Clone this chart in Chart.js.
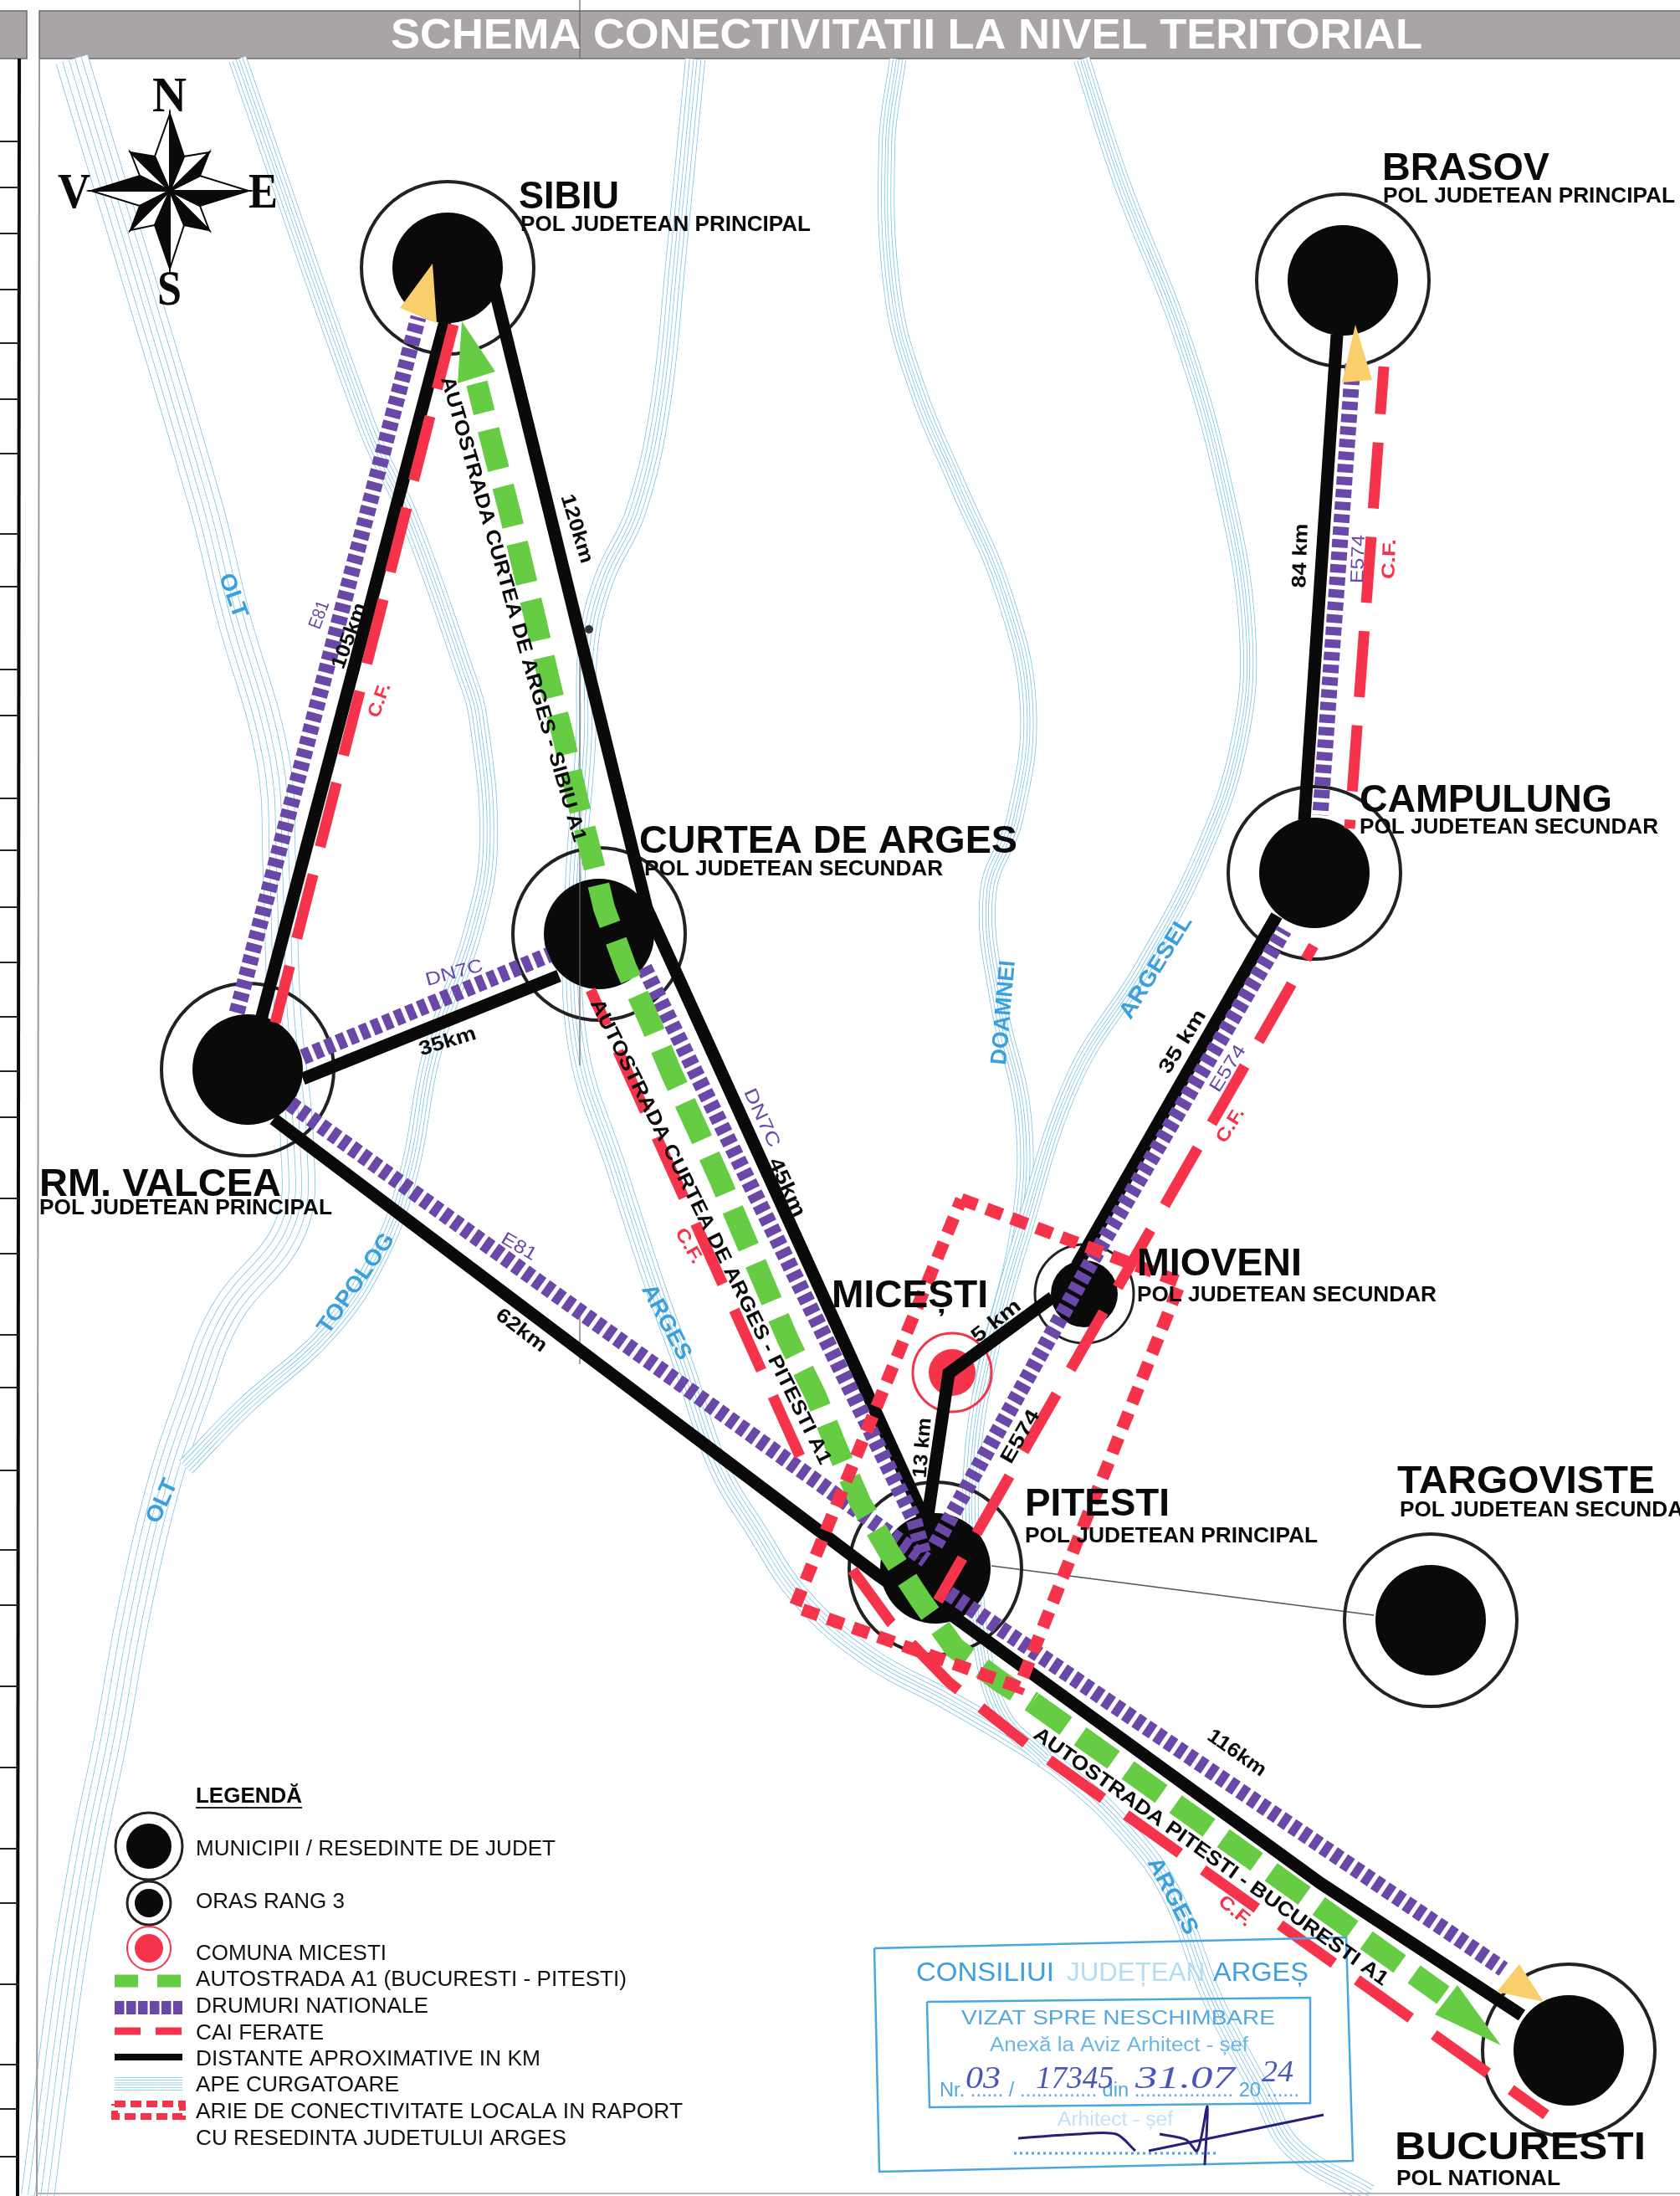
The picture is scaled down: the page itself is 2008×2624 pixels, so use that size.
<!DOCTYPE html>
<html>
<head>
<meta charset="utf-8">
<title>Schema conectivitatii la nivel teritorial</title>
<script src="https://cdn.jsdelivr.net/npm/chart.js@4/dist/chart.umd.js"></script>
<style>
html, body { margin: 0; padding: 0; background: #fff; }
canvas { display: block; }
</style>
</head>
<body>
<canvas id="myChart" width="2008" height="2624"></canvas>
<script>
// map values (x to the right, y downwards)
const cityNames = ['SIBIU', 'BRASOV', 'CAMPULUNG', 'CURTEA DE ARGES', 'RM. VALCEA', 'PITESTI', 'TARGOVISTE', 'BUCURESTI', 'MIOVENI', 'MICESTI']
const cityX = [535, 1605, 1571, 716, 296, 1118, 1710, 1875, 1296, 1138]
const cityY = [320, 335, 1043, 1116, 1278, 1874, 1936, 2450, 1546, 1640]

const oltX = [86, 245, 278, 326, 334, 340, 355, 347, 270, 230, 196, 160, 132, 107, 80, 45]
const oltY = [71, 600, 733, 906, 1039, 1212, 1365, 1467, 1570, 1671, 1773, 1926, 2080, 2200, 2360, 2624]
const topologX = [284, 440, 490, 556, 571, 584, 566, 515, 490, 454, 393, 291, 222]
const topologY = [71, 513, 620, 804, 855, 1008, 1110, 1263, 1396, 1498, 1590, 1682, 1753]
const argesX = [831, 808, 789, 760, 722, 703, 700, 687, 690, 738, 784, 818, 858, 904, 956, 1036, 1134, 1214, 1272, 1340, 1398, 1444, 1463, 1508, 1546, 1636]
const argesY = [71, 308, 486, 611, 692, 772, 888, 1067, 1245, 1400, 1540, 1634, 1751, 1829, 1907, 1978, 2032, 2079, 2118, 2181, 2259, 2376, 2417, 2500, 2567, 2622]
const doamneiX = [1073, 1060, 1067, 1098, 1143, 1200, 1229, 1213, 1181, 1194, 1223, 1218, 1175, 1160, 1164, 1172, 1197, 1249]
const doamneiY = [71, 174, 352, 469, 576, 710, 844, 978, 1067, 1201, 1335, 1467, 1650, 1780, 1869, 1958, 2048, 2102]
const argeselX = [1293, 1341, 1411, 1462, 1491, 1481, 1436, 1366, 1283, 1218, 1187, 1172]
const argeselY = [71, 219, 397, 576, 754, 888, 1022, 1156, 1290, 1489, 1600, 1668]

const distanceLines = [
    { x: [532, 311], y: [384, 1222] },
    { x: [580, 773, 1103, 1105], y: [300, 1085, 1811, 1830] },
    { x: [668, 362], y: [1166, 1289] },
    { x: [327, 1049, 1075], y: [1337, 1882, 1900] },
    { x: [1109, 1134, 1258], y: [1811, 1641, 1550] },
    { x: [1287, 1526], y: [1512, 1094] },
    { x: [1598, 1559], y: [400, 980] },
    { x: [1139, 1578, 1819], y: [1931, 2250, 2408] },
]
const nationalRoads = [
    { x: [283, 500], y: [1210, 379] },
    { x: [362, 656], y: [1263, 1141] },
    { x: [770, 1092, 1105], y: [1156, 1815, 1860] },
    { x: [347, 1107], y: [1319, 1864] },
    { x: [1118, 1302, 1535], y: [1846, 1512, 1111] },
    { x: [1617, 1578], y: [435, 974] },
    { x: [1134, 1797], y: [1904, 2353] },
]
const railways = [
    { x: [542, 329], y: [388, 1222], skip: 0 },
    { x: [706, 956], y: [1183, 1740], skip: 33 },
    { x: [1019, 1065, 1134, 1226], y: [1876, 1939, 2010, 2083], skip: 0 },
    { x: [1254, 1848], y: [2103, 2527], skip: 0 },
    { x: [1121, 1570], y: [1913, 1130], skip: 20 },
    { x: [1654, 1613], y: [438, 990], skip: 22 },
]
const motorwayX = [570, 591, 609, 625, 641, 656, 674, 689, 706, 722, 748, 776, 802, 831, 859, 942, 975, 1000, 1028, 1063, 1101, 1141, 1195, 1234]
const motorwayY = [458, 542, 611, 678, 745, 812, 884, 951, 1018, 1085, 1156, 1219, 1281, 1344, 1406, 1601, 1668, 1730, 1795, 1855, 1913, 1969, 2009, 2034]
const motorwayEastX = [1234, 1598, 1725]
const motorwayEastY = [2034, 2293, 2384]
const localAreaX = [1149, 1411, 1218, 950, 1149]
const localAreaY = [1433, 1532, 2016, 1920, 1433]

const greenHeads = [
    { x: [552, 547, 592], y: [384, 458, 444] },
    { x: [1794, 1742, 1715], y: [2444, 2372, 2407] },
]
const yellowHeads = [
    { x: [517, 478, 522], y: [315, 368, 386] },
    { x: [1620, 1604, 1640], y: [388, 457, 454] },
    { x: [1816, 1789, 1845], y: [2347, 2380, 2392] },
]
const targovisteLinkX = [1185, 1642]
const targovisteLinkY = [1871, 1930]
const seamX = [693, 693, null, 693, 693, null, 693, 693]
const seamY = [0, 70, null, 733, 1273, null, 1560, 1630]
const speckX = [704]
const speckY = [752]

// compass rose
const roseBlack = [
    { x: [203, 203, 220], y: [228, 136, 187] },
    { x: [203, 297, 239], y: [228, 228, 246] },
    { x: [203, 203, 185], y: [228, 321, 269] },
    { x: [203, 109, 167], y: [228, 228, 210] },
    { x: [203, 250, 239], y: [228, 182, 210] },
    { x: [203, 250, 220], y: [228, 275, 269] },
    { x: [203, 156, 167], y: [228, 275, 246] },
    { x: [203, 156, 185], y: [228, 182, 187] },
]
const roseWhite = [
    { x: [203, 203, 185], y: [228, 136, 187] },
    { x: [203, 297, 239], y: [228, 228, 210] },
    { x: [203, 203, 220], y: [228, 321, 269] },
    { x: [203, 109, 167], y: [228, 228, 246] },
    { x: [203, 250, 220], y: [228, 182, 187] },
    { x: [203, 250, 239], y: [228, 275, 246] },
    { x: [203, 156, 185], y: [228, 275, 269] },
    { x: [203, 156, 167], y: [228, 182, 210] },
]

// left margin of the sheet
const marginX = [23, 21]
const marginY = [70, 2624]
const marginTicks = [169, 224, 279, 346, 410, 477, 542, 638, 701, 800, 855, 954, 1016, 1084, 1150, 1215, 1280, 1335, 1432, 1498, 1595, 1658, 1757, 1852, 1918, 2015, 2112, 2209, 2274, 2371, 2467, 2520, 2577]

// legend samples
const legendRingX = [178, 178, 178]
const legendRingY = [2206, 2274, 2328]
const legendLineX = [137, 218]
const legendLineY = { motorway: 2367, road: 2399, rail: 2427, distance: 2458, water: 2490 }
const legendAreaX = [137, 218, 218, 137, 137]
const legendAreaY = [2514, 2514, 2529, 2529, 2514]

// stamp
const stampOuterX = [1045, 1609, 1617, 1051, 1045]
const stampOuterY = [2328, 2315, 2582, 2595, 2328]
const stampInnerX = [1108, 1566, 1566, 1111, 1108]
const stampInnerY = [2392, 2387, 2513, 2518, 2392]
const stampDotsX = [1212, 1453]
const stampDotsY = [2573, 2573]
const signature = [
    { x: [1217, 1289, 1334, 1357], y: [2555, 2550, 2550, 2570] },
    { x: [1373, 1582], y: [2570, 2527] },
    { x: [1386, 1418, 1431, 1443, 1440], y: [2550, 2557, 2570, 2517, 2587] },
]

// text, x, baseline, width, px
const cityLabels = [
    ['SIBIU', 620, 249, 120, 47], ['POL JUDETEAN PRINCIPAL', 622, 276, 347, 25],
    ['BRASOV', 1652, 215, 200, 47], ['POL JUDETEAN PRINCIPAL', 1653, 242, 349, 25],
    ['CAMPULUNG', 1625, 970, 302, 47], ['POL JUDETEAN SECUNDAR', 1625, 996, 357, 25],
    ['CURTEA DE ARGES', 764, 1019, 452, 47], ['POL JUDETEAN SECUNDAR', 770, 1046, 357, 25],
    ['RM. VALCEA', 47, 1429, 289, 47], ['POL JUDETEAN PRINCIPAL', 47, 1451, 350, 25],
    ['MICEȘTI', 994, 1562, 187, 47],
    ['MIOVENI', 1359, 1524, 197, 47], ['POL JUDETEAN SECUNDAR', 1359, 1555, 358, 25],
    ['PITESTI', 1225, 1811, 173, 47], ['POL JUDETEAN PRINCIPAL', 1225, 1843, 350, 25],
    ['TARGOVISTE', 1670, 1784, 308, 47], ['POL JUDETEAN SECUNDAR', 1673, 1812, 358, 25],
    ['BUCURESTI', 1667, 2580, 300, 47], ['POL NATIONAL', 1669, 2611, 196, 25],
]
// text, centre x, centre y, angle, length, px
const roadLabels = [
    ['AUTOSTRADA CURTEA DE ARGES - SIBIU A1', 613, 728, 74, 577, 24],
    ['AUTOSTRADA CURTEA DE ARGES - PITESTI A1', 849, 1472, 63.5, 618, 24],
    ['AUTOSTRADA PITESTI - BUCURESTI A1', 1447, 2219, 35.4, 514, 24],
    ['120km', 689, 632, 73, 85, 24], ['105km', 418, 760, -70, 82, 24], ['35km', 535, 1245, -17, 70, 24],
    ['62km', 623, 1590, 37, 70, 24], ['45km', 940, 1419, 65, 75, 24], ['35 km', 1414, 1245, -58, 85, 24],
    ['13 km', 1103, 1730, -85, 72, 24], ['5 km', 1191, 1579, -38, 68, 24], ['116km', 1478, 2095, 35, 80, 24],
    ['84 km', 1555, 664, -88, 77, 24], ['E574', 1220, 1717, -60, 70, 24],
]
const purpleLabels = [
    ['E81', 382, 735, -70, 34, 22], ['DN7C', 543, 1163, -15, 70, 22], ['E81', 620, 1490, 30, 45, 22],
    ['E574', 1468, 1277, -58, 62, 22], ['DN7C', 910, 1336, 65, 75, 22], ['E574', 1624, 668, -88, 58, 22],
]
const redLabels = [
    ['C.F.', 454, 837, -70, 42, 22], ['C.F.', 1471, 1345, -58, 45, 22], ['C.F.', 823, 1489, 60, 45, 22],
    ['C.F.', 1476, 2284, 40, 45, 22], ['C.F.', 1661, 668, -88, 48, 22],
]
const riverLabels = [
    ['OLT', 278, 712, 70, 55, 27], ['OLT', 194, 1794, -65, 55, 27], ['TOPOLOG', 426, 1534, -55, 140, 27],
    ['ARGES', 796, 1580, 62, 98, 27], ['ARGES', 1401, 2266, 62, 100, 27], ['DOAMNEI', 1200, 1210, -85, 125, 27],
    ['ARGESEL', 1382, 1156, -58, 140, 27],
]
const legendTitle = 'LEGENDĂ'
const legendTexts = [
    ['MUNICIPII / RESEDINTE DE JUDET', 234, 2217, 430], ['ORAS RANG 3', 234, 2280, 178],
    ['COMUNA MICESTI', 234, 2342, 228], ['AUTOSTRADA A1 (BUCURESTI - PITESTI)', 234, 2373, 515],
    ['DRUMURI NATIONALE', 234, 2405, 278], ['CAI FERATE', 234, 2437, 153],
    ['DISTANTE APROXIMATIVE IN KM', 234, 2468, 412], ['APE CURGATOARE', 234, 2499, 243],
    ['ARIE DE CONECTIVITATE LOCALA IN RAPORT', 234, 2531, 582], ['CU RESEDINTA JUDETULUI ARGES', 234, 2563, 443],
]
const stampTexts = [
    ['CONSILIUI', 1095, 2367, 165, 32, '#3f9fe0'], ['JUDEȚEAN', 1275, 2367, 165, 32, '#b5dcf2'], ['ARGEȘ', 1450, 2367, 114, 32, '#3f9fe0'],
    ['VIZAT SPRE NESCHIMBARE', 1149, 2419, 375, 24, '#54a8de'],
    ['Anexă la Aviz Arhitect - șef', 1183, 2451, 309, 23, '#6cb6e4'],
    ['Nr. ...... / .............. din .................. 20 ......', 1123, 2505, 430, 23, '#54a8de'],
    ['Arhitect - șef', 1264, 2540, 138, 23, '#c4e2f4'],
]
const handTexts = [['03', 1154, 2495, 42, 38], ['17345', 1238, 2495, 93, 38], ['31.07', 1357, 2495, 119, 38], ['24', 1508, 2487, 38, 36]]
const titleText = 'SCHEMA CONECTIVITATII LA NIVEL TERITORIAL'

const colors = { black: '#0a0a0a', purple: '#6a48a8', red: '#f5334a', green: '#66cc44', yellow: '#f8cf6a', water: '#7cc4e4', waterText: '#3a9fdc' }
const dash = { purple: [10, 5], red: [79, 34], green: [49, 21], area: [20, 12] }

const pts = (xs, ys) => xs.map((x, i) => ({ x, y: ys[i] }))
const line = (xs, ys, color, width, extra) => Object.assign({
    type: 'scatter', data: pts(xs, ys), showLine: true, pointRadius: 0, clip: false,
    borderColor: color, borderWidth: width, fill: false, spanGaps: false,
}, extra)
const shape = (xs, ys, color, edge) => line(xs.concat(xs[0]), ys.concat(ys[0]), edge || color, edge ? 2 : 0, {
    fill: 'shape', backgroundColor: color,
})
const marks = (xs, ys, radius, fillColor, edge, edgeWidth) => ({
    type: 'scatter', data: pts(xs, ys), showLine: false, pointRadius: radius, clip: false,
    pointBackgroundColor: fillColor, pointBorderColor: edge, pointBorderWidth: edgeWidth,
})
// parallel strands: thin coloured line, white inside, narrower again
const river = (xs, ys, width, curved) => {
    var out = []
    ;[1, 0.6, 0.2].forEach(k => {
        const w = width * k
        const bend = { tension: curved ? 0.4 : 0 }
        out.push(line(xs, ys, colors.water, w, bend))
        out.push(line(xs, ys, '#fff', Math.max(w - 1.6, 0.5), bend))
    })
    return out
}

var paint = []
paint.push(...river(oltX, oltY, 40, true))
paint.push(...river(topologX, topologY, 22, true))
paint.push(...river(argesX, argesY, 24, true))
paint.push(...river(doamneiX, doamneiY, 20, true))
paint.push(...river(argeselX, argeselY, 20, true))
paint.push(line(marginX, marginY, colors.black, 4))
paint.push(line(marginTicks.flatMap(() => [0, 22, null]), marginTicks.flatMap(t => [t, t, null]), '#222', 2))
paint.push(line([47, 44], [70, 2624], '#9a9a9a', 2))
paint.push(line([44, 2008], [2621, 2621], '#b5b5b5', 2))
paint.push(line(targovisteLinkX, targovisteLinkY, '#555', 1.5))

const bigCities = 8
paint.push(marks(cityX.slice(0, bigCities), cityY.slice(0, bigCities), 103, 'rgba(0,0,0,0)', '#222', 4))
paint.push(marks(cityX.slice(0, bigCities), cityY.slice(0, bigCities), 66, colors.black, colors.black, 0))
paint.push(marks(cityX.slice(8, 9), cityY.slice(8, 9), 59, 'rgba(0,0,0,0)', '#222', 3))
paint.push(marks(cityX.slice(8, 9), cityY.slice(8, 9), 40, colors.black, colors.black, 0))
paint.push(marks(cityX.slice(9), cityY.slice(9), 47, 'rgba(0,0,0,0)', colors.red, 3))
paint.push(marks(cityX.slice(9), cityY.slice(9), 28, colors.red, colors.red, 0))
paint.push(line(seamX, seamY, '#666', 1.2))
paint.push(marks(speckX, speckY, 5, '#333', '#333', 0))

distanceLines.forEach(d => paint.push(line(d.x, d.y, colors.black, 15)))
nationalRoads.forEach(d => paint.push(line(d.x, d.y, colors.purple, 19, { borderDash: dash.purple })))
railways.forEach(d => paint.push(line(d.x, d.y, colors.red, 13, { borderDash: dash.red, borderDashOffset: d.skip })))
paint.push(line(motorwayX, motorwayY, colors.green, 26, { borderDash: dash.green, borderDashOffset: 13 }))
paint.push(line(motorwayEastX, motorwayEastY, colors.green, 26, { borderDash: dash.green }))
greenHeads.forEach(d => paint.push(shape(d.x, d.y, colors.green)))
yellowHeads.forEach(d => paint.push(shape(d.x, d.y, colors.yellow)))
paint.push(line(localAreaX, localAreaY, colors.red, 15, { borderDash: dash.area }))

roseWhite.forEach(d => paint.push(shape(d.x, d.y, '#fff', colors.black)))
roseBlack.forEach(d => paint.push(shape(d.x, d.y, colors.black, colors.black)))

// legend samples
paint.push(marks(legendRingX.slice(0, 1), legendRingY.slice(0, 1), 40, 'rgba(0,0,0,0)', '#222', 3))
paint.push(marks(legendRingX.slice(0, 1), legendRingY.slice(0, 1), 27, colors.black, colors.black, 0))
paint.push(marks(legendRingX.slice(1, 2), legendRingY.slice(1, 2), 26, 'rgba(0,0,0,0)', '#222', 3))
paint.push(marks(legendRingX.slice(1, 2), legendRingY.slice(1, 2), 17, colors.black, colors.black, 0))
paint.push(marks(legendRingX.slice(2), legendRingY.slice(2), 26, 'rgba(0,0,0,0)', colors.red, 2))
paint.push(marks(legendRingX.slice(2), legendRingY.slice(2), 17, colors.red, colors.red, 0))
const flat = v => [v, v]
paint.push(line(legendLineX, flat(legendLineY.motorway), colors.green, 15, { borderDash: [28, 23] }))
paint.push(line(legendLineX, flat(legendLineY.road), colors.purple, 16, { borderDash: [11.5, 2.5] }))
paint.push(line(legendLineX, flat(legendLineY.rail), colors.red, 9, { borderDash: [31, 18] }))
paint.push(line(legendLineX, flat(legendLineY.distance), colors.black, 8))
paint.push(...river(legendLineX, flat(legendLineY.water), 16, false))
paint.push(line(legendAreaX, legendAreaY, colors.red, 8, { borderDash: [13, 6] }))

// stamp
paint.push(line(stampOuterX, stampOuterY, '#4aa6e2', 2.5))
paint.push(line(stampInnerX, stampInnerY, '#4aa6e2', 2.5))
paint.push(line(stampDotsX, stampDotsY, '#4aa6e2', 3, { borderDash: [3, 4] }))
signature.forEach(d => paint.push(line(d.x, d.y, '#2a1f78', 3, { tension: 0.3 })))

// later entries go on top, chart.js wants that as a low order
const datasets = paint.map((d, i) => Object.assign(d, { order: paint.length - i }))

// chart.js keeps the area in by the biggest point overflow (ring radius + edge)
const inset = 107

const textPlugin = {
    id: 'sheetText',
    beforeDatasetsDraw(chart) {
        const ctx = chart.ctx
        const sx = chart.scales.x, sy = chart.scales.y
        const bar = (x0, x1) => {
            const l = sx.getPixelForValue(x0), r = sx.getPixelForValue(x1)
            const t = sy.getPixelForValue(13), b = sy.getPixelForValue(70)
            ctx.fillStyle = '#a9a5a7'
            ctx.fillRect(l, t, r - l, b - t)
            ctx.strokeStyle = '#6e6a6c'
            ctx.lineWidth = 1.5
            ctx.strokeRect(l, t, r - l, b - t)
        }
        bar(-2, 32)
        bar(47, 2010)
    },
    afterDatasetsDraw(chart) {
        const ctx = chart.ctx
        const sx = chart.scales.x, sy = chart.scales.y
        const put = (text, x, y, width, font, color) => {
            ctx.save()
            ctx.font = font
            ctx.fillStyle = color
            ctx.textAlign = 'left'
            ctx.textBaseline = 'alphabetic'
            ctx.translate(sx.getPixelForValue(x), sy.getPixelForValue(y))
            ctx.scale(width / ctx.measureText(text).width, 1)
            ctx.fillText(text, 0, 0)
            ctx.restore()
        }
        const turned = (row, font, color) => {
            const [text, x, y, angle, length, px] = row
            ctx.save()
            ctx.font = font(px)
            ctx.fillStyle = color
            ctx.textAlign = 'center'
            ctx.textBaseline = 'middle'
            ctx.translate(sx.getPixelForValue(x), sy.getPixelForValue(y))
            ctx.rotate(angle * Math.PI / 180)
            ctx.scale(length / ctx.measureText(text).width, 1)
            ctx.fillText(text, 0, 0)
            ctx.restore()
        }
        const sans = 'Liberation Sans'
        put(titleText, 467, 58, 1233, 'bold 50px "' + sans + '"', '#fff')
        cityLabels.forEach(r => put(r[0], r[1], r[2], r[3], 'bold ' + r[4] + 'px "' + sans + '"', colors.black))
        roadLabels.forEach(r => turned(r, px => 'bold ' + px + 'px "' + sans + '"', colors.black))
        purpleLabels.forEach(r => turned(r, px => px + 'px "' + sans + '"', colors.purple))
        redLabels.forEach(r => turned(r, px => 'bold ' + px + 'px "' + sans + '"', colors.red))
        riverLabels.forEach(r => turned(r, px => 'bold ' + px + 'px "' + sans + '"', colors.waterText))
        put(legendTitle, 234, 2154, 127, 'bold 25px "' + sans + '"', colors.black)
        ctx.fillStyle = '#222'
        ctx.fillRect(sx.getPixelForValue(234), sy.getPixelForValue(2159), 127, 2)
        legendTexts.forEach(r => put(r[0], r[1], r[2], r[3], '26px "' + sans + '"', '#111'))
        put('N', 182, 133, 41, 'bold 60px "Liberation Serif"', colors.black)
        put('V', 69, 248, 39, 'bold 60px "Liberation Serif"', colors.black)
        put('E', 297, 248, 35, 'bold 60px "Liberation Serif"', colors.black)
        put('S', 188, 364, 29, 'bold 60px "Liberation Serif"', colors.black)
        stampTexts.forEach(r => put(r[0], r[1], r[2], r[3], r[4] + 'px "' + sans + '"', r[5]))
        handTexts.forEach(r => put(r[0], r[1], r[2], r[3], 'italic ' + r[4] + 'px "Liberation Serif"', '#4a55b8'))
    },
}

new Chart(document.getElementById('myChart'), {
    type: 'scatter',
    data: { datasets },
    plugins: [textPlugin],
    options: {
        responsive: false,
        animation: false,
        devicePixelRatio: 1,
        layout: { padding: 0 },
        elements: { line: { borderJoinStyle: 'miter', borderCapStyle: 'butt' } },
        plugins: { legend: { display: false }, tooltip: { enabled: false } },
        scales: {
            x: { type: 'linear', min: inset, max: 2008 - inset, display: false },
            y: { type: 'linear', min: inset, max: 2624 - inset, reverse: true, display: false },
        },
    },
})
</script>
</body>
</html>
